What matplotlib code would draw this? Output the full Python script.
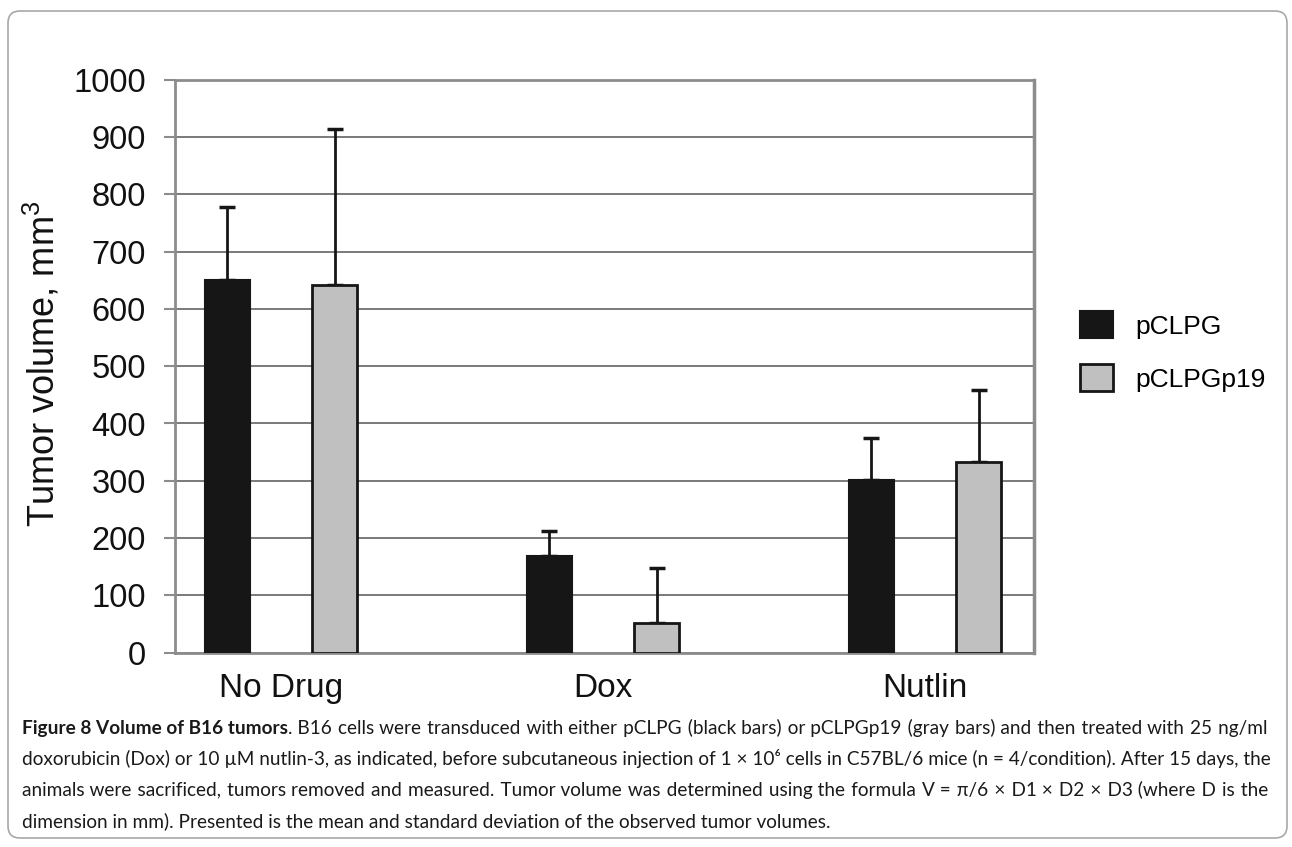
import numpy as np
import matplotlib
matplotlib.use('Agg')
import matplotlib.pyplot as plt
from matplotlib.patches import FancyBboxPatch
from matplotlib.transforms import IdentityTransform

W, H = 1292, 847

categories = ['No Drug', 'Dox', 'Nutlin']
series = ['pCLPG', 'pCLPGp19']
pclpg_mean = [650, 168, 302]
pclpg_sd = [129, 45, 73]
pclpgp19_mean = [642, 52, 332]
pclpgp19_sd = [272, 95, 127]
y_ticks = list(range(0, 1001, 100))

caption_bold = "Figure 8 Volume of B16 tumors"
caption_lines = [
    ". B16 cells were transduced with either pCLPG (black bars) or pCLPGp19 (gray bars) and then treated with 25 ng/ml",
    "doxorubicin (Dox) or 10 \u00b5M nutlin-3, as indicated, before subcutaneous injection of 1 \u00d7 10\u2076 cells in C57BL/6 mice (n = 4/condition). After 15 days, the",
    "animals were sacrificed, tumors removed and measured. Tumor volume was determined using the formula V = \u03c0/6 \u00d7 D1 \u00d7 D2 \u00d7 D3 (where D is the",
    "dimension in mm). Presented is the mean and standard deviation of the observed tumor volumes.",
]

plt.rcParams['font.family'] = ['Liberation Sans', 'DejaVu Sans']
plt.rcParams['mathtext.fontset'] = 'custom'
plt.rcParams['mathtext.rm'] = 'Liberation Sans'

fig = plt.figure(figsize=(W / 100, H / 100), dpi=100)
ax = fig.add_axes([175 / W, 1 - 652.5 / H, (1034 - 175) / W, (652.5 - 80) / H])

x = np.arange(len(categories))
w = 0.14
off = 0.167
dark = '#161616'
grid = '#7a7a7a'

ax.bar(x - off, pclpg_mean, w, color=dark, edgecolor=dark, lw=1.5, label=series[0], zorder=3)
ax.bar(x + off, pclpgp19_mean, w, color='#c0c0c0', edgecolor=dark, lw=2, label=series[1], zorder=3)
ax.errorbar(x - off, pclpg_mean, yerr=[np.zeros(3), pclpg_sd], fmt='none',
            ecolor=dark, elinewidth=2, capsize=6, capthick=2.5, zorder=2)
ax.errorbar(x + off, pclpgp19_mean, yerr=[np.zeros(3), pclpgp19_sd], fmt='none',
            ecolor=dark, elinewidth=2, capsize=6, capthick=2.5, zorder=2)

ax.set_ylim(0, 1000)
ax.set_xlim(-0.329, 2.338)
ax.set_yticks(y_ticks)
ax.set_xticks(x, categories)
ax.yaxis.grid(True, color=grid, lw=1.4, zorder=0)
ax.set_axisbelow(True)
for s in ax.spines.values():
    s.set_color('#8c8c8c')
    s.set_linewidth(2)
ax.spines['right'].set_linewidth(2.5)
ax.tick_params(axis='y', direction='out', length=8, width=1.5, color='#8c8c8c',
               labelsize=23.5, pad=13, labelcolor='#111111')
ax.tick_params(axis='x', length=0, pad=15, labelsize=24, labelcolor='#111111')

fig.text(42 / W, 1 - 364 / H, 'Tumor volume, mm$^{3}$', rotation=90, fontsize=26,
         ha='center', va='center', color='#111111')

fig.legend(loc='center left', bbox_to_anchor=(1080 / W, 1 - 351.5 / H), frameon=False,
           fontsize=19, handlelength=1.25, handleheight=1.2, handletextpad=0.83,
           labelspacing=0.96, borderpad=0, borderaxespad=0)

# rounded frame round the whole figure
box = FancyBboxPatch((8, H - 838), 1279, 827, boxstyle='round,pad=0,rounding_size=12',
                     transform=IdentityTransform(), fill=False, ec='#a8a8a8', lw=1.2)
fig.patches.append(box)

renderer = fig.canvas.get_renderer()
cap_font = ['Lato', 'DejaVu Sans']
HAIR = '\u200a'


def text_width(s, size, wt='normal'):
    t = fig.text(0, 0, s, fontsize=size, fontweight=wt, family=cap_font)
    wd = t.get_window_extent(renderer).width
    t.remove()
    return wd


def justify(s, target, size):
    # pad the gaps between words with hair spaces so the line fills its width
    words = s.split(' ')
    hair = text_width('a' + HAIR + 'a', size) - text_width('aa', size)
    extra = target - text_width(s, size)
    n = max(int(round(extra / hair)), 0) if hair > 0 else 0
    gaps = len(words) - 1
    out = words[0]
    for i, wd in enumerate(words[1:]):
        k = n * (i + 1) // gaps - n * i // gaps
        out += ' ' + HAIR * k + wd
    return out


left, right = 22, 1268
bold_w13 = text_width(caption_bold, 13, 'bold')
natural = [bold_w13 + text_width(caption_lines[0], 13)]
natural += [text_width(s, 13) for s in caption_lines[1:3]]
cap_size = 13 * (right - left) / max(natural)

baselines = [734, 765, 796, 827]
bold_w = text_width(caption_bold, cap_size, 'bold')
fig.text(left / W, 1 - baselines[0] / H, caption_bold, fontsize=cap_size, fontweight='bold',
         family=cap_font, va='baseline', ha='left', color='#1a1a1a')
for k, (yb, s) in enumerate(zip(baselines, caption_lines)):
    x0 = left + bold_w if k == 0 else left
    if k < len(caption_lines) - 1:
        s = justify(s, right - x0, cap_size)
    fig.text(x0 / W, 1 - yb / H, s, fontsize=cap_size, family=cap_font,
             va='baseline', ha='left', color='#1a1a1a')

fig.savefig('out.png', dpi=100)
